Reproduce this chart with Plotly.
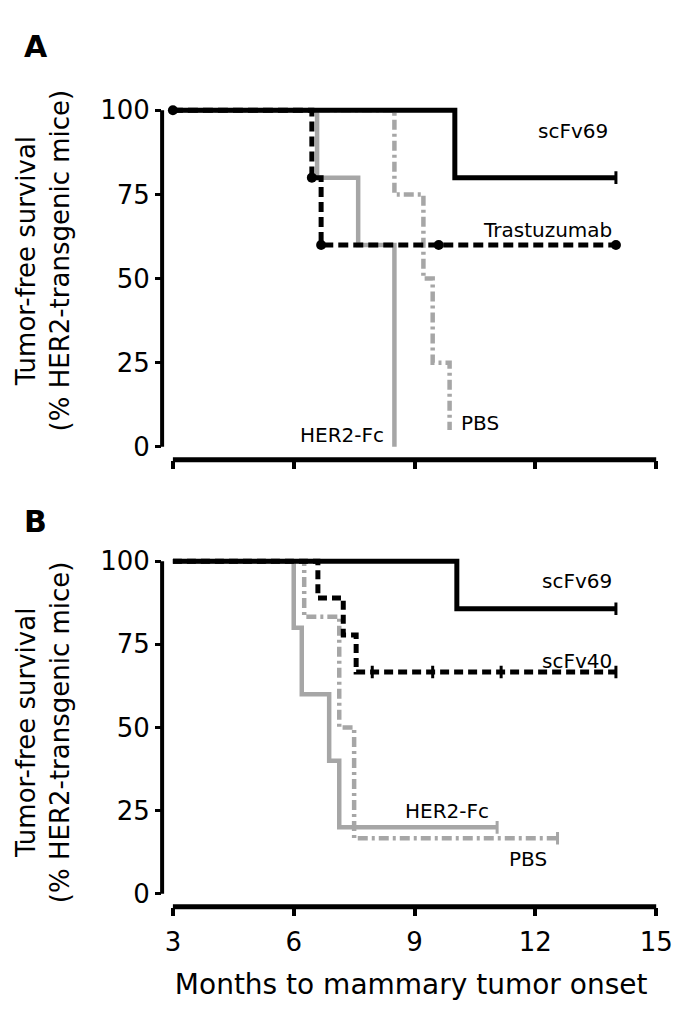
import plotly.graph_objects as go

# panel A (Kaplan-Meier steps: event times and survival %)
a_scfv69_t = [3, 10, 14]
a_scfv69_s = [100, 80, 80]
a_trast_t = [3, 6.45, 6.68, 14]
a_trast_s = [100, 80, 60, 60]
a_trast_cens_t = [3, 6.45, 6.68, 9.6, 14]
a_trast_cens_s = [100, 80, 60, 60, 60]
a_her2_t = [3, 6.58, 7.6, 8.5]
a_her2_s = [100, 80, 60, 0]
a_pbs_t = [3, 8.5, 9.22, 9.45, 9.87]
a_pbs_s = [100, 75, 50, 25, 5]

# panel B
b_scfv69_t = [3, 10.05, 14]
b_scfv69_s = [100, 85.7, 85.7]
b_scfv40_t = [3, 6.6, 7.23, 7.55, 14]
b_scfv40_s = [100, 88.9, 77.8, 66.7, 66.7]
b_scfv40_cens_t = [7.95, 9.45, 11.15, 14]
b_scfv40_cens_s = [66.7, 66.7, 66.7, 66.7]
b_her2_t = [3, 6.0, 6.2, 6.88, 7.13, 11.05]
b_her2_s = [100, 80, 60, 40, 20, 20]
b_pbs_t = [3, 6.26, 7.13, 7.5, 12.55]
b_pbs_s = [100, 83.3, 50, 16.7, 16.7]

x_ticks = [3, 6, 9, 12, 15]
y_ticks = [0, 25, 50, 75, 100]

BLACK = "black"
GREY = "#a6a6a6"
FONT = "DejaVu Sans"

W, H = 685, 1020
def px(v): return v / W
def py(v): return 1 - v / H

fig = go.Figure()

def km(t, s, color, dash, width, xa, ya):
	fig.add_trace(go.Scatter(x=t, y=s, mode="lines", line=dict(color=color, dash=dash, width=width, shape="hv"),
		xaxis=xa, yaxis=ya, showlegend=False, hoverinfo="skip"))

def ticks(t, s, color, xa, ya):
	fig.add_trace(go.Scatter(x=t, y=s, mode="markers", marker=dict(symbol="line-ns", size=9, line=dict(color=color, width=3)),
		xaxis=xa, yaxis=ya, showlegend=False, hoverinfo="skip"))

# A
km(a_her2_t, a_her2_s, GREY, "solid", 4.5, "x", "y")
km(a_pbs_t, a_pbs_s, GREY, "10px,4px,3px,4px", 4.5, "x", "y")
km(a_trast_t, a_trast_s, BLACK, "10px,5px", 5, "x", "y")
km(a_scfv69_t, a_scfv69_s, BLACK, "solid", 5, "x", "y")
fig.add_trace(go.Scatter(x=a_trast_cens_t, y=a_trast_cens_s, mode="markers", marker=dict(color=BLACK, size=10),
	xaxis="x", yaxis="y", showlegend=False, hoverinfo="skip"))
ticks([a_scfv69_t[-1]], [a_scfv69_s[-1]], BLACK, "x", "y")

# B
km(b_her2_t, b_her2_s, GREY, "solid", 4.5, "x2", "y2")
km(b_pbs_t, b_pbs_s, GREY, "10px,4px,3px,4px", 4.5, "x2", "y2")
km(b_scfv40_t, b_scfv40_s, BLACK, "9px,5px", 5, "x2", "y2")
km(b_scfv69_t, b_scfv69_s, BLACK, "solid", 5, "x2", "y2")
ticks(b_scfv40_cens_t, b_scfv40_cens_s, BLACK, "x2", "y2")
ticks([b_scfv69_t[-1]], [b_scfv69_s[-1]], BLACK, "x2", "y2")
ticks([b_her2_t[-1]], [b_her2_s[-1]], GREY, "x2", "y2")
ticks([b_pbs_t[-1]], [b_pbs_s[-1]], GREY, "x2", "y2")

xax = dict(range=[2.732, 15.1], domain=[px(165), px(672)], showline=False, showgrid=False, zeroline=False,
	tickvals=x_ticks, ticks="outside", ticklen=8, tickwidth=4, tickcolor=BLACK)
yax = dict(showline=False, showgrid=False, zeroline=False, tickvals=y_ticks, ticks="outside",
	ticklen=6, tickwidth=3, tickcolor=BLACK, tickfont=dict(size=26, color=BLACK, family=FONT))

fig.update_layout(
	width=W, height=H, margin=dict(l=0, r=0, t=0, b=0),
	paper_bgcolor="white", plot_bgcolor="white",
	font=dict(family=FONT, color=BLACK),
	xaxis=dict(xax, anchor="y", showticklabels=False),
	yaxis=dict(yax, anchor="x", range=[-3.86, 102.97], domain=[py(458), py(96)]),
	xaxis2=dict(xax, anchor="y2", tickfont=dict(size=26, color=BLACK, family=FONT), ticklabelstandoff=4,
		title=dict(text="Months to mammary tumor onset", font=dict(size=28, color=BLACK, family=FONT), standoff=18)),
	yaxis2=dict(yax, anchor="x2", range=[-3.88, 102.99], domain=[py(908), py(550)]),
)

# separated axis lines
for xa, ya in [("x", "y"), ("x2", "y2")]:
	fig.add_shape(type="line", xref=xa+" domain", yref=ya, x0=0, x1=0, y0=0, y1=100, line=dict(color=BLACK, width=4))
	fig.add_shape(type="line", xref=xa, yref=ya+" domain", x0=3, x1=15, y0=0, y1=0, line=dict(color=BLACK, width=5))

ytitle = "Tumor-free survival<br>(% HER2-transgenic mice)"
for yc in [257, 732]:
	fig.add_annotation(text=ytitle, xref="paper", yref="paper", x=px(44), y=py(yc), textangle=-90,
		showarrow=False, font=dict(size=26, family=FONT, color=BLACK), xanchor="center", yanchor="middle")

for lab, yc in [("A", 42), ("B", 520)]:
	fig.add_annotation(text="<b>"+lab+"</b>", xref="paper", yref="paper", x=px(22), y=py(yc),
		showarrow=False, font=dict(size=30, family=FONT, color=BLACK), xanchor="left", yanchor="middle")

lf = dict(size=20, family=FONT, color=BLACK)
labels = [
	("scFv69", "x", "y", 13.85, 94, "right"),
	("Trastuzumab", "x", "y", 13.95, 64.4, "right"),
	("HER2-Fc", "x", "y", 8.3, 3.6, "right"),
	("PBS", "x", "y", 10.1, 7, "left"),
	("scFv69", "x2", "y2", 13.95, 94, "right"),
	("scFv40", "x2", "y2", 13.95, 70, "right"),
	("HER2-Fc", "x2", "y2", 10.9, 24.8, "right"),
	("PBS", "x2", "y2", 11.3, 10.4, "left"),
]
for txt, xa, ya, xv, yv, anc in labels:
	fig.add_annotation(text=txt, xref=xa, yref=ya, x=xv, y=yv, showarrow=False, font=lf,
		xanchor=anc, yanchor="middle")

# no page margin / scrollbars so figure pixels are page pixels
fig.write_html("out.html", config={"displayModeBar": False},
	post_script="document.body.style.margin='0';document.body.style.overflow='hidden';")
